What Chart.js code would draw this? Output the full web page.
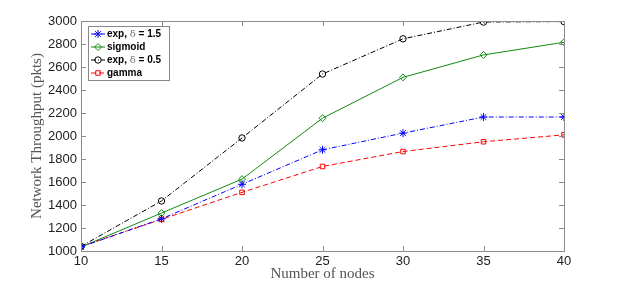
<!DOCTYPE html>
<html>
<head>
<meta charset="utf-8">
<script src="https://cdn.jsdelivr.net/npm/chart.js@4"></script>
<style>
  html, body { margin: 0; padding: 0; background: #fff; }
  #wrap { width: 623px; height: 285px; }
</style>
</head>
<body>
<div id="wrap"><canvas id="chart"></canvas></div>
<script>
const nodes = [10, 15, 20, 25, 30, 35, 40];
const yTicks = [1000, 1200, 1400, 1600, 1800, 2000, 2200, 2400, 2600, 2800, 3000];

const expHigh = [1035, 1280, 1580, 1880, 2025, 2165, 2165];   // exp, δ = 1.5
const sigmoid = [1035, 1330, 1625, 2155, 2510, 2705, 2815];
const expLow  = [1040, 1435, 1983, 2539, 2845, 2991, 2995];   // exp, δ = 0.5
const gamma   = [1040, 1275, 1510, 1735, 1865, 1950, 2010];

const seriesNames = ['exp, δ = 1.5', 'sigmoid', 'exp, δ = 0.5', 'gamma'];

const axisGrey = '#8c8c8c';
const tickFont = { family: 'Liberation Sans, Arial, sans-serif', size: 13 };
const titleFont = { family: 'Liberation Serif, Times New Roman, serif', size: 15 };

function toXY(vals) {
    return vals.map((v, i) => ({ x: nodes[i], y: v }));
}

// frame with inward ticks, matlab style
const boxPlugin = {
    id: 'box',
    afterDraw(chart) {
        const { ctx, chartArea: a, scales } = chart;
        ctx.save();
        ctx.strokeStyle = axisGrey;
        ctx.lineWidth = 1;
        ctx.strokeRect(a.left + 0.5, a.top + 0.5, a.right - a.left, a.bottom - a.top);
        const len = 5;
        ctx.beginPath();
        scales.x.ticks.forEach(t => {
            const px = Math.round(scales.x.getPixelForValue(t.value)) + 0.5;
            ctx.moveTo(px, a.bottom); ctx.lineTo(px, a.bottom - len);
            ctx.moveTo(px, a.top); ctx.lineTo(px, a.top + len);
        });
        scales.y.ticks.forEach(t => {
            const py = Math.round(scales.y.getPixelForValue(t.value)) + 0.5;
            ctx.moveTo(a.left, py); ctx.lineTo(a.left + len, py);
            ctx.moveTo(a.right, py); ctx.lineTo(a.right - len, py);
        });
        ctx.stroke();
        ctx.restore();
    }
};

// legend box in the top left corner
const legendPlugin = {
    id: 'boxLegend',
    afterDraw(chart) {
        const { ctx, chartArea: a } = chart;
        const x0 = a.left + 7, y0 = a.top + 5;
        const w = 81, rowH = 13;
        const h = rowH * chart.data.datasets.length + 2;
        ctx.save();
        ctx.fillStyle = '#fff';
        ctx.fillRect(x0, y0, w, h);
        ctx.strokeStyle = '#888';
        ctx.lineWidth = 1;
        ctx.strokeRect(x0 + 0.5, y0 + 0.5, w, h);
        chart.data.datasets.forEach((ds, i) => {
            const cy = y0 + 8 + i * rowH;
            ctx.strokeStyle = ds.borderColor;
            ctx.lineWidth = 1;
            ctx.setLineDash(ds.borderDash || []);
            ctx.beginPath();
            ctx.moveTo(x0 + 3, cy); ctx.lineTo(x0 + 17, cy);
            ctx.stroke();
            ctx.setLineDash([]);
            ctx.fillStyle = ds.pointBackgroundColor;
            Chart.helpers.drawPoint(ctx, {
                pointStyle: ds.pointStyle, radius: ds.pointRadius, borderWidth: 1
            }, x0 + 10, cy);
            ctx.fillStyle = '#000';
            ctx.font = 'bold 10px Liberation Sans, Arial, sans-serif';
            ctx.textBaseline = 'middle';
            ctx.textAlign = 'left';
            const label = ds.label;
            const k = label.indexOf('δ');
            if (k >= 0) {
                const pre = label.slice(0, k);
                ctx.fillText(pre, x0 + 19, cy);
                let px = x0 + 19 + ctx.measureText(pre).width;
                ctx.font = '10px DejaVu Serif, serif';
                ctx.fillStyle = '#777';
                ctx.fillText('δ', px, cy);
                px += ctx.measureText('δ').width;
                ctx.font = 'bold 10px Liberation Sans, Arial, sans-serif';
                ctx.fillStyle = '#000';
                ctx.fillText(label.slice(k + 1), px, cy);
            } else {
                ctx.fillText(label, x0 + 19, cy);
            }
        });
        ctx.restore();
    }
};

const ctx = document.getElementById('chart').getContext('2d');

const chart = new Chart(ctx, {
    type: 'line',
    data: {
        datasets: [
            {
                label: seriesNames[0], data: toXY(expHigh),
                borderColor: '#0000ff', backgroundColor: '#0000ff',
                borderDash: [5, 2, 1, 2], pointStyle: 'star', pointRadius: 4
            },
            {
                label: seriesNames[1], data: toXY(sigmoid),
                borderColor: '#118a11', backgroundColor: 'rgba(0,0,0,0)',
                pointStyle: 'rectRot', pointRadius: 3.5
            },
            {
                label: seriesNames[2], data: toXY(expLow),
                borderColor: '#000000', backgroundColor: 'rgba(0,0,0,0)',
                borderDash: [5, 2, 1, 2], pointStyle: 'circle', pointRadius: 3.2
            },
            {
                label: seriesNames[3], data: toXY(gamma),
                borderColor: '#ff0000', backgroundColor: 'rgba(0,0,0,0)',
                borderDash: [5, 3], pointStyle: 'rect', pointRadius: 3.2
            }
        ].map(d => Object.assign({
            borderWidth: 1, pointBorderWidth: 1, tension: 0, fill: false,
            pointBorderColor: d.borderColor, pointBackgroundColor: d.backgroundColor
        }, d))
    },
    options: {
        responsive: true,
        maintainAspectRatio: false,
        animation: false,
        layout: { padding: { top: 21, right: 59, left: 0, bottom: 0 } },
        scales: {
            x: {
                type: 'linear', min: 10, max: 40,
                afterFit: s => { s.height = 34; },
                afterBuildTicks: s => { s.ticks = nodes.map(v => ({ value: v })); },
                grid: { display: false, drawTicks: false },
                border: { display: false },
                ticks: { font: tickFont, color: '#222', padding: 3, maxRotation: 0, callback: v => String(v) },
                title: { display: true, text: 'Number of nodes', font: titleFont, color: '#555', padding: { top: 0, bottom: 2 } }
            },
            y: {
                min: 1000, max: 3000,
                afterFit: s => { s.width = 81; },
                afterBuildTicks: s => { s.ticks = yTicks.map(v => ({ value: v })); },
                grid: { display: false, drawTicks: false },
                border: { display: false },
                ticks: { font: tickFont, color: '#222', padding: 4, callback: v => String(v) },
                title: { display: true, text: 'Network Throughput (pkts)', font: titleFont, color: '#555', padding: { top: 28, bottom: 0 } }
            }
        },
        plugins: {
            legend: { display: false },
            tooltip: { enabled: false }
        }
    },
    plugins: [boxPlugin, legendPlugin]
});
</script>
</body>
</html>
